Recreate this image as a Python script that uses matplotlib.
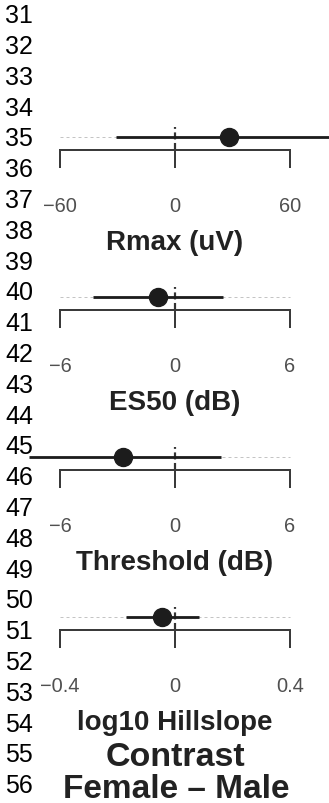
import matplotlib
matplotlib.use("Agg")
import matplotlib.pyplot as plt

plt.rcParams['font.family'] = ['Liberation Sans', 'DejaVu Sans']

# Female - Male contrasts: point estimate and interval for each measure
measures = ["Rmax (uV)", "ES50 (dB)", "Threshold (dB)", "log10 Hillslope"]
estimates = [28.2, -0.89, -2.7, -0.044]
ci_low = [-30.8, -4.28, -7.6, -0.170]
ci_high = [87.0, 2.50, 2.4, 0.085]
axis_limits = [60, 6, 6, 0.4]
tick_labels = [["\u221260", "0", "60"],
               ["\u22126", "0", "6"],
               ["\u22126", "0", "6"],
               ["\u22120.4", "0", "0.4"]]
line_numbers = list(range(31, 57))
contrast_title = "Contrast"
contrast_label = "Female \u2013 Male"

W, H, DPI = 329, 804, 100
PT = 72.0 / DPI          # points per pixel
fig = plt.figure(figsize=(W / DPI, H / DPI), dpi=DPI)


def fy(px):
    """Figure fraction for a pixel row counted from the top."""
    return 1 - px / H


zero_px = 175            # where 0 sits horizontally
half_span_px = 115       # distance from 0 to the end tick
first_axis_px = 151      # first axis line, from the top
panel_step = 160
ax_h = 40                # axes height in pixels (1 data unit = 1 px)

ink = "#1c1c1c"
axis_col = "#3a3a3a"

for k, name in enumerate(measures):
    L = axis_limits[k]
    base = first_axis_px + panel_step * k
    ax = fig.add_axes([0, fy(base), 1, ax_h / H])
    ax.set_xlim(-zero_px * L / half_span_px, (W - zero_px) * L / half_span_px)
    ax.set_ylim(-13, ax_h - 13)
    ax.patch.set_visible(False)
    for s in ("top", "right", "left"):
        ax.spines[s].set_visible(False)
    sp = ax.spines["bottom"]
    sp.set_bounds(-L, L)
    sp.set_linewidth(2 * PT)
    sp.set_color(axis_col)
    ax.set_yticks([])
    ax.set_xticks([-L, 0, L])
    ax.set_xticklabels(tick_labels[k])
    ax.tick_params(axis="x", direction="out", length=18 * PT, width=2 * PT,
                   color=axis_col, pad=20.5, labelsize=14.4,
                   labelcolor="#505050")

    # faint guide across the row, dashed zero reference, interval, estimate
    ax.hlines(0, -L, L, colors="#c4c4c4", linestyles=(0, (3, 3)),
              lw=1 * PT, zorder=1)
    ax.vlines(0, -13, 10, colors="#333333", linestyles=(0, (3.2, 1.6)),
              lw=2.2 * PT, zorder=2)
    ax.plot([ci_low[k], ci_high[k]], [0, 0], color=ink, lw=2.8 * PT,
            solid_capstyle="butt", clip_on=False, zorder=3)
    ax.plot([estimates[k]], [0], "o", ms=18 * PT, color=ink, mec=ink,
            clip_on=False, zorder=4)

    ax.set_xlabel(name, fontsize=20, fontweight="bold", color="#222222")
    ax.xaxis.set_label_coords(zero_px / W, -(230 - 151) / ax_h)

# manuscript line numbers down the left margin
for i, n in enumerate(line_numbers):
    fig.text(5 / W, fy(23.3 + 30.8 * i), str(n), fontsize=18,
             ha="left", va="baseline", color="black")

fig.text(175 / W, fy(766), contrast_title, fontsize=24.5, fontweight="bold",
         ha="center", va="baseline", color="#222222")
fig.text(176 / W, fy(798), contrast_label, fontsize=24, fontweight="bold",
         ha="center", va="baseline", color="#222222")

fig.savefig("out.png", dpi=DPI)
